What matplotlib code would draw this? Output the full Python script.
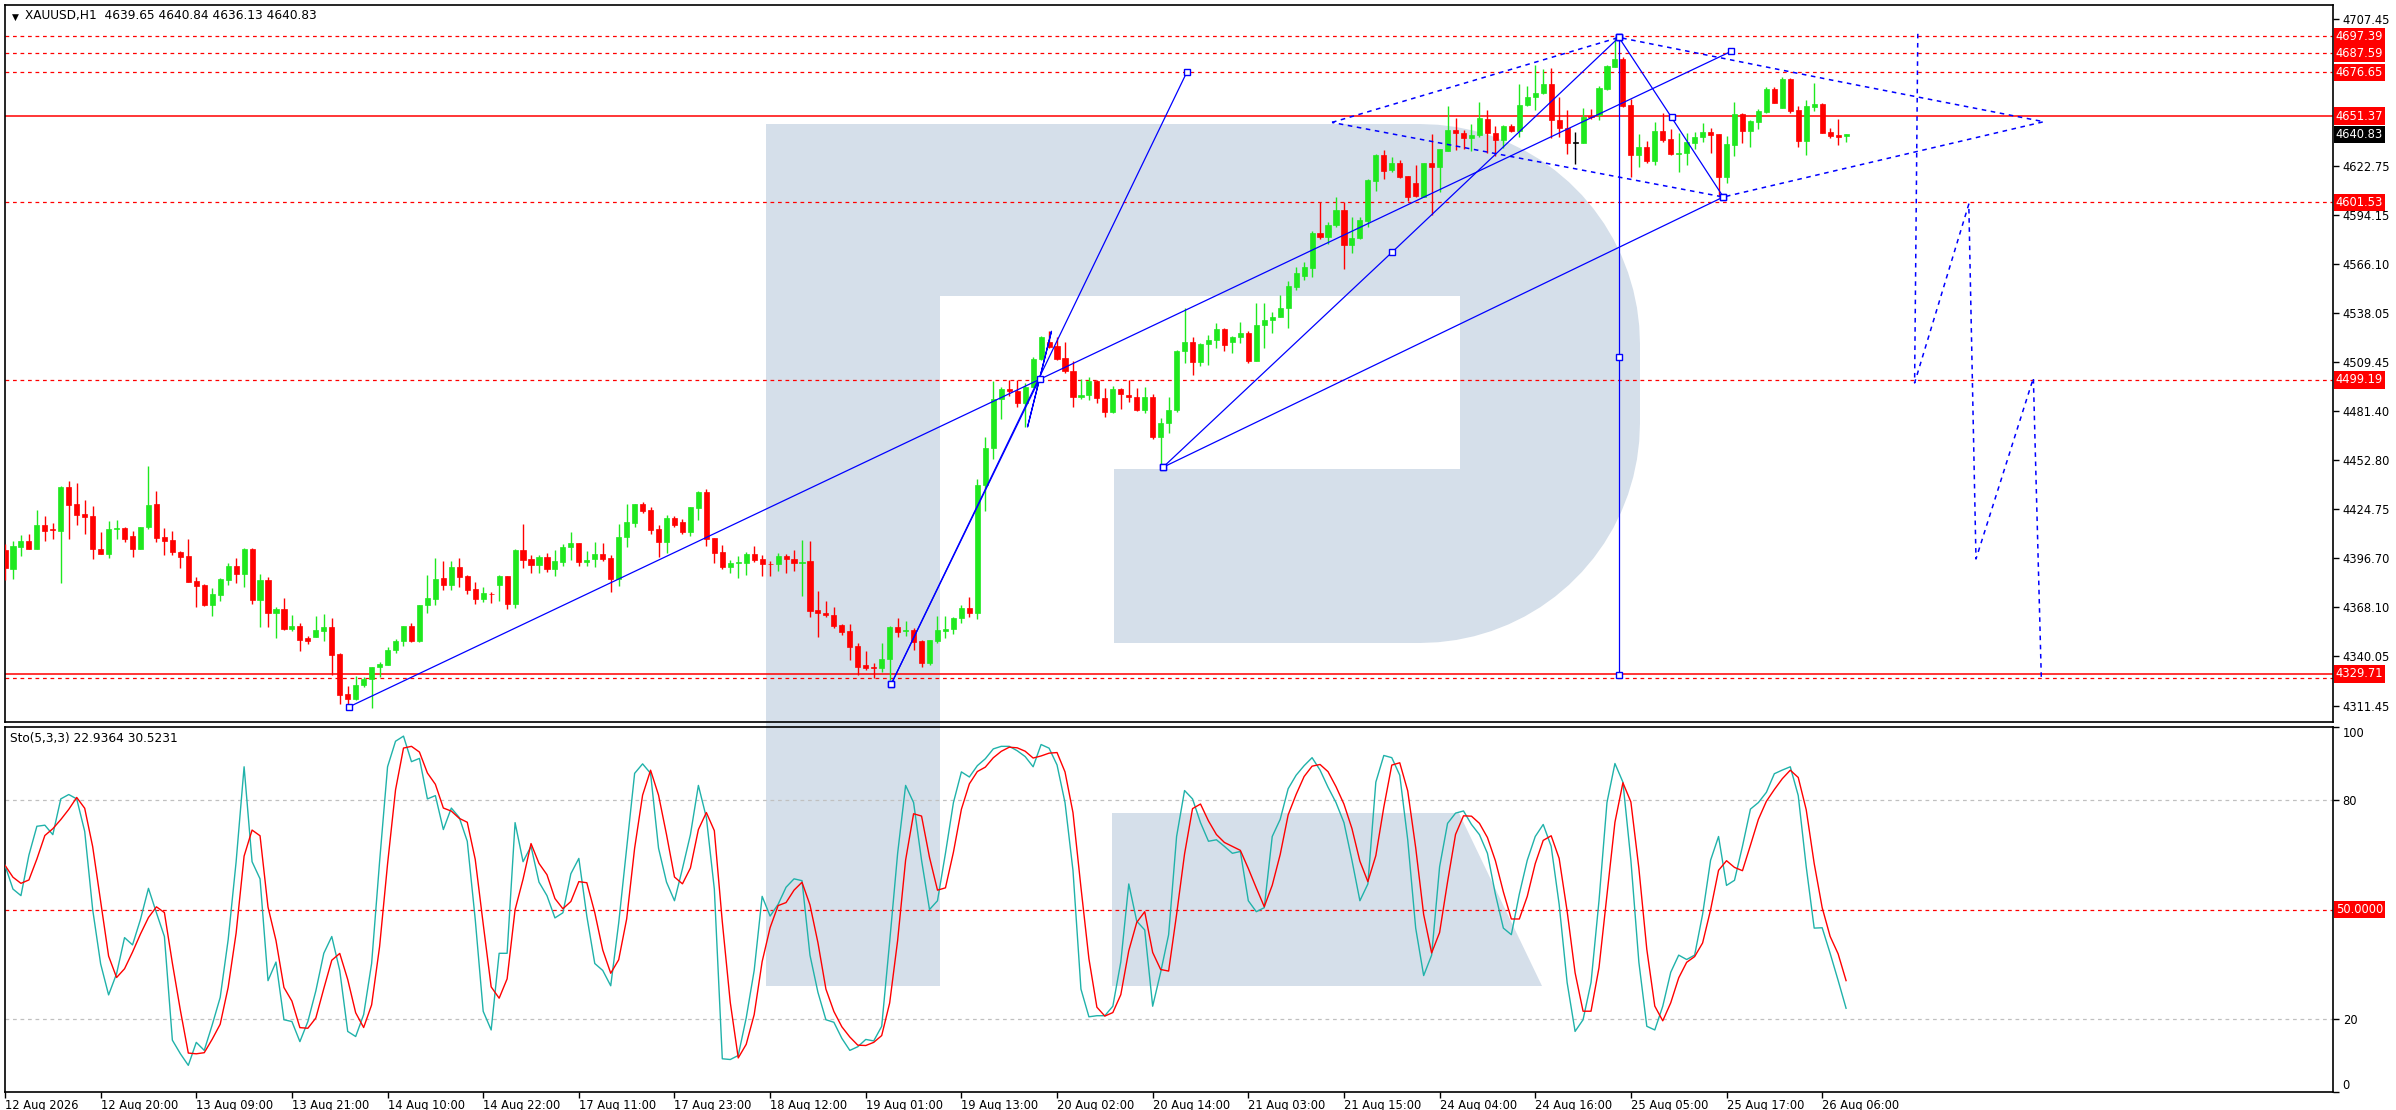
import matplotlib
matplotlib.use("Agg")
import matplotlib.pyplot as plt
import matplotlib.transforms as mtransforms
from matplotlib.patches import Polygon, Rectangle
import numpy as np
import pandas as pd

# 画面サイズ (px)
W, H = 2396, 1110

opens = [
    4401.2, 4390.4, 4403.1, 4406.4, 4401.6, 4415.4, 4412.9, 4412.3, 4437.5, 4427.7,
    4421.9, 4420.8, 4401.7, 4399.1, 4413.1, 4413.6, 4409.0, 4401.6, 4414.2, 4427.5,
    4408.5, 4406.9, 4400.0, 4397.7, 4383.3, 4381.0, 4369.5, 4375.2, 4383.9, 4391.9,
    4387.3, 4401.7, 4372.3, 4383.9, 4365.0, 4367.1, 4355.6, 4357.3, 4350.2, 4351.2,
    4354.7, 4356.6, 4341.2, 4318.2, 4315.5, 4323.3, 4326.8, 4333.5, 4335.1, 4343.5,
    4348.7, 4357.3, 4348.7, 4369.5, 4372.9, 4385.0, 4381.0, 4391.4, 4386.2, 4378.7,
    4372.9, 4375.8, 4381.0, 4386.2, 4370.0, 4401.2, 4395.8, 4392.5, 4396.9, 4390.2,
    4394.4, 4402.7, 4405.2, 4394.4, 4395.8, 4398.9, 4396.6, 4384.6, 4408.5, 4416.9,
    4427.7, 4424.2, 4413.1, 4406.0, 4419.6, 4417.3, 4411.7, 4425.6, 4434.6, 4408.1,
    4400.0, 4391.6, 4393.5, 4393.9, 4398.9, 4396.0, 4393.1, 4393.1, 4397.7, 4396.0,
    4393.9, 4394.8, 4366.6, 4365.0, 4363.7, 4357.9, 4354.5,
    4345.8, 4334.9, 4333.9, 4333.0, 4338.2, 4357.0, 4354.5, 4355.1, 4348.9, 4335.8,
    4348.9, 4354.7, 4355.4, 4361.8, 4367.5, 4364.7, 4438.7, 4459.8, 4488.2, 4494.0,
    4493.0, 4486.1, 4495.0, 4511.1, 4521.3, 4518.8, 4511.7, 4504.6, 4489.2, 4490.5,
    4498.8, 4488.6, 4480.9, 4493.8, 4490.5, 4489.2, 4481.9, 4489.6, 4466.5, 4474.6,
    4481.9, 4515.9, 4521.3, 4509.7, 4519.8, 4522.3, 4528.4, 4521.3, 4523.8, 4526.1,
    4510.1, 4530.9, 4533.8, 4535.3, 4540.5,
    4553.0, 4559.1, 4563.9, 4583.7, 4581.8, 4588.5, 4597.2, 4577.0, 4580.8, 4591.0,
    4614.1, 4628.9, 4620.2, 4624.1, 4616.8, 4612.5, 4604.9, 4624.1, 4621.8, 4631.4,
    4643.3, 4641.4, 4638.5, 4640.4, 4649.6, 4641.4, 4637.5, 4645.6, 4642.9, 4657.7,
    4662.1, 4664.4, 4669.8, 4649.1, 4644.3, 4636.0, 4636.0, 4651.4, 4651.9, 4666.9,
    4679.8, 4684.0, 4657.7, 4628.9, 4633.7, 4625.6, 4642.7, 4637.9, 4629.5, 4629.8,
    4636.0, 4639.1, 4641.9, 4641.0, 4616.0, 4634.6, 4652.5, 4642.7, 4648.1, 4653.9,
    4666.9, 4655.8, 4672.7, 4654.8, 4636.9, 4656.7, 4658.3, 4641.9, 4640.2, 4639.65,
]
closes = [
    4391.0, 4403.5, 4406.4, 4401.6, 4415.4, 4412.3, 4412.6, 4437.5, 4427.3, 4421.5,
    4420.4, 4401.6, 4399.1, 4413.1, 4413.8, 4407.3, 4401.9, 4414.2, 4426.9, 4408.3,
    4406.5, 4400.2, 4397.3, 4382.9, 4380.6, 4369.5, 4375.8, 4384.4, 4391.9, 4387.3,
    4401.7, 4372.3, 4383.9, 4365.0, 4367.1, 4355.6, 4357.3, 4349.3, 4348.7, 4355.0,
    4356.6, 4340.8, 4317.8, 4315.5, 4323.3, 4326.8, 4333.5, 4335.4, 4343.5, 4348.7,
    4357.3, 4348.7, 4369.5, 4373.3, 4384.4, 4381.0, 4391.4, 4385.8, 4378.1, 4372.9,
    4376.2, 4375.6, 4386.2, 4370.0, 4401.2, 4395.4, 4392.5, 4397.3, 4390.2, 4394.8,
    4402.7, 4405.2, 4394.4, 4395.4, 4398.9, 4396.0, 4384.6, 4408.5, 4417.5, 4427.7,
    4423.8, 4412.7, 4406.0, 4419.6, 4415.8, 4411.7, 4426.0, 4434.6, 4407.7, 4399.6,
    4391.6, 4393.9, 4394.2, 4398.9, 4395.4, 4393.1, 4392.9, 4397.7, 4395.8, 4393.9,
    4394.4, 4366.2, 4364.7, 4363.7, 4357.5, 4354.1, 4345.4,
    4333.9, 4333.0, 4333.0, 4338.2, 4357.0, 4354.1, 4355.1, 4348.3, 4335.8, 4349.3,
    4355.1, 4355.4, 4361.8, 4367.5, 4364.7, 4438.7, 4459.8, 4488.2, 4494.0, 4493.0,
    4486.1, 4495.0, 4511.1, 4523.8, 4518.4, 4511.1, 4504.6, 4489.6, 4490.5, 4498.8,
    4488.6, 4480.9, 4493.8, 4490.9, 4489.2, 4481.9, 4489.6, 4466.5, 4474.6, 4481.9,
    4515.9, 4521.3, 4509.7, 4519.8, 4522.3, 4528.4, 4519.4, 4523.8, 4526.1, 4510.1,
    4530.9, 4533.8, 4535.3, 4540.5, 4553.4,
    4560.7, 4564.5, 4584.1, 4581.4, 4588.5, 4597.2, 4577.0, 4581.0, 4591.4, 4614.5,
    4628.9, 4619.9, 4624.1, 4616.4, 4604.5, 4605.2, 4624.1, 4621.8, 4632.3, 4643.3,
    4641.4, 4638.5, 4640.4, 4650.0, 4641.4, 4637.5, 4645.6, 4642.9, 4657.7, 4662.1,
    4664.4, 4669.8, 4649.1, 4644.3, 4636.0, 4636.0, 4650.6, 4650.6, 4667.7, 4680.2,
    4684.0, 4657.1, 4628.9, 4633.7, 4625.6, 4642.7, 4637.5, 4629.5, 4629.8, 4636.6,
    4639.1, 4642.1, 4640.6, 4616.4, 4635.2, 4652.5, 4642.9, 4648.5, 4654.2, 4666.9,
    4659.0, 4672.7, 4654.2, 4636.9, 4657.1, 4658.3, 4641.7, 4639.8, 4639.4, 4640.83,
]
highs = [
    4404.6, 4406.4, 4409.8, 4410.2, 4424.2, 4420.8, 4416.5, 4438.1, 4441.0, 4439.8,
    4430.0, 4426.5, 4411.5, 4417.9, 4418.5, 4414.2, 4412.3, 4414.2, 4449.6, 4435.2,
    4413.7, 4412.1, 4400.6, 4407.5, 4385.8, 4381.4, 4379.4, 4385.2, 4393.9, 4396.7,
    4402.5, 4402.5, 4387.3, 4385.8, 4368.5, 4373.3, 4363.7, 4358.9, 4351.8, 4363.1,
    4364.3, 4361.8, 4341.6, 4322.8, 4328.5, 4327.7, 4333.9, 4336.8, 4345.4, 4349.9,
    4357.3, 4359.3, 4369.5, 4386.8, 4396.7, 4395.0, 4394.8, 4396.7, 4386.8, 4382.5,
    4380.0, 4377.1, 4386.8, 4386.2, 4401.9, 4416.1, 4398.3, 4398.3, 4399.2, 4401.2,
    4404.6, 4411.5, 4405.2, 4400.6, 4406.0, 4405.4, 4398.3, 4416.1, 4427.7, 4427.7,
    4428.8, 4426.1, 4415.6, 4421.2, 4420.8, 4418.8, 4426.0, 4435.4, 4436.1, 4408.1,
    4404.0, 4395.4, 4397.7, 4400.0, 4403.5, 4398.3, 4394.8, 4399.2, 4398.9, 4401.2,
    4406.9, 4406.3, 4377.5, 4371.8, 4368.3, 4358.5, 4358.5,
    4347.4, 4343.1, 4335.8, 4347.4, 4357.4, 4361.8, 4360.4, 4356.0, 4349.3, 4349.3,
    4363.1, 4363.1, 4362.7, 4369.5, 4374.3, 4441.9, 4466.5, 4498.8, 4494.9, 4499.2,
    4499.2, 4497.3, 4512.6, 4524.6, 4527.2, 4524.2, 4521.3, 4510.3, 4499.6, 4500.7,
    4499.2, 4494.4, 4495.7, 4494.4, 4499.2, 4494.4, 4495.0, 4490.9, 4477.1, 4489.2,
    4516.5, 4540.5, 4524.2, 4520.7, 4525.1, 4532.2, 4529.0, 4524.6, 4532.4, 4527.4,
    4543.4, 4543.4, 4538.2, 4548.2, 4556.3,
    4564.5, 4567.4, 4585.3, 4602.0, 4590.4, 4604.9, 4602.0, 4592.9, 4592.9, 4614.8,
    4629.5, 4631.8, 4627.5, 4626.0, 4616.8, 4623.1, 4624.1, 4641.0, 4632.3, 4657.1,
    4650.0, 4643.3, 4646.7, 4659.6, 4654.8, 4645.6, 4646.2, 4646.7, 4669.8, 4668.6,
    4680.8, 4678.3, 4678.8, 4662.5, 4654.8, 4641.9, 4656.2, 4655.2, 4668.6, 4680.8,
    4696.7, 4685.2, 4661.0, 4640.8, 4637.1, 4647.7, 4652.9, 4643.7, 4641.7, 4641.7,
    4642.3, 4647.1, 4644.6, 4641.0, 4639.8, 4659.6, 4653.3, 4649.1, 4655.2, 4667.9,
    4667.9, 4673.7, 4673.1, 4657.1, 4660.6, 4670.6, 4658.7, 4644.2, 4649.6, 4640.84,
]
lows = [
    4383.9, 4384.6, 4397.9, 4401.6, 4401.6, 4406.5, 4407.3, 4382.3, 4407.7, 4415.8,
    4410.6, 4396.2, 4398.7, 4396.4, 4407.7, 4406.0, 4397.3, 4401.6, 4413.1, 4406.0,
    4398.3, 4398.3, 4391.0, 4382.9, 4368.5, 4369.1, 4363.3, 4371.8, 4381.0, 4382.3,
    4380.0, 4370.0, 4357.0, 4357.0, 4350.6, 4355.0, 4354.7, 4343.1, 4346.8, 4351.2,
    4348.9, 4328.9, 4312.2, 4311.8, 4314.7, 4322.4, 4310.3, 4327.7, 4334.9, 4341.6,
    4345.8, 4348.1, 4348.3, 4365.0, 4369.5, 4378.1, 4378.1, 4380.0, 4375.8, 4370.0,
    4371.4, 4370.8, 4372.0, 4367.0, 4367.9, 4390.6, 4388.1, 4388.1, 4388.7, 4386.2,
    4391.9, 4395.4, 4391.9, 4391.9, 4391.6, 4395.0, 4377.1, 4380.6, 4403.1, 4414.6,
    4422.3, 4410.4, 4397.3, 4399.2, 4414.2, 4410.2, 4409.4, 4418.5, 4403.5, 4393.9,
    4390.2, 4388.1, 4384.8, 4386.8, 4394.4, 4386.2, 4386.2, 4389.3, 4388.1, 4389.3,
    4374.8, 4362.7, 4351.2, 4362.7, 4356.4, 4352.2, 4337.7,
    4329.1, 4332.0, 4327.2, 4331.0, 4326.2, 4351.2, 4351.6, 4343.5, 4333.9, 4334.9,
    4347.4, 4350.6, 4352.8, 4359.3, 4362.4, 4361.6, 4423.9, 4453.6, 4476.9, 4490.2,
    4483.8, 4472.1, 4495.0, 4510.7, 4517.4, 4510.7, 4503.4, 4483.8, 4488.0, 4487.7,
    4486.1, 4477.7, 4480.0, 4482.5, 4486.7, 4481.5, 4480.4, 4465.0, 4448.8, 4468.8,
    4480.5, 4508.8, 4502.1, 4507.3, 4507.8, 4517.8, 4516.1, 4514.9, 4520.7, 4509.2,
    4510.1, 4517.8, 4526.5, 4535.3, 4529.0,
    4551.1, 4556.8, 4558.7, 4580.2, 4577.4, 4587.2, 4563.0, 4572.6, 4580.2, 4587.6,
    4608.3, 4614.8, 4619.2, 4615.4, 4602.5, 4604.9, 4604.5, 4594.3, 4607.7, 4631.4,
    4631.8, 4632.1, 4631.4, 4639.1, 4629.8, 4628.3, 4632.7, 4642.3, 4639.1, 4657.1,
    4654.8, 4664.0, 4638.5, 4639.4, 4629.5, 4623.7, 4635.6, 4649.6, 4649.1, 4666.3,
    4679.8, 4656.7, 4616.4, 4621.8, 4624.1, 4623.1, 4636.6, 4628.9, 4619.3, 4623.1,
    4632.1, 4636.2, 4629.8, 4604.9, 4612.5, 4628.3, 4636.0, 4633.7, 4643.7, 4652.9,
    4658.7, 4655.8, 4652.9, 4633.7, 4628.9, 4654.4, 4641.4, 4638.5, 4634.6, 4636.13,
]

# Stochastic %K (5,3,3)
stoch_k = [
    62.1, 55.6, 53.8, 64.9, 72.8, 73.1, 70.5, 80.3, 81.5, 80.3,
    71.4, 50.0, 35.1, 26.6, 32.4, 42.3, 40.3, 47.3, 55.8, 49.1,
    42.6, 14.2, 10.5, 7.3, 13.6, 11.4, 18.4, 25.9, 41.7, 63.1,
    89.1, 63.1, 58.4, 30.5, 35.6, 19.8, 19.3, 13.8, 19.3, 27.7,
    38.0, 42.6, 33.3, 16.6, 15.2, 21.2, 35.2, 63.1, 89.1, 96.1,
    97.5, 90.5, 91.4, 80.3, 81.2, 71.9, 77.8, 75.2, 68.7, 47.3,
    22.1, 17.0, 38.0, 38.0, 73.8, 63.1, 67.3, 57.5, 53.8, 47.7,
    49.1, 59.8, 64.0, 48.2, 35.2, 33.3, 29.1, 46.3, 66.8, 87.3,
    89.9, 87.3, 66.8, 57.5, 52.4, 61.2, 70.5, 84.0, 75.2, 55.6,
    9.1, 8.9, 10.0, 20.3, 33.3, 53.6, 48.2, 51.4, 56.1, 58.4,
    57.9, 37.5, 27.3, 19.8, 19.1, 14.7, 11.4, 12.4, 14.4, 14.0,
    18.0, 41.2, 65.4, 84.0, 79.3, 63.5, 50.0, 52.4, 65.4, 79.3,
    87.7, 86.3, 89.4, 91.3, 94.0, 94.7, 94.7, 93.5, 91.9, 89.1,
    95.2, 94.2, 89.6, 79.3, 60.7, 28.2, 20.6, 20.9, 20.9, 23.5,
    35.6, 57.0, 46.8, 44.4, 23.5, 32.8, 43.1, 70.0, 82.6, 80.3,
    73.8, 68.7, 69.1, 67.3, 65.4, 65.9, 52.4, 49.4, 50.5, 70.0,
    74.7, 83.1, 86.8, 89.4, 91.6, 88.2, 83.5, 79.3, 73.8, 63.5,
    52.4, 57.0, 84.9, 92.2, 91.6, 86.8, 69.1, 44.9, 31.9, 37.5,
    61.7, 73.6, 76.4, 77.0, 73.3, 70.5, 65.4, 54.2, 44.9, 43.1,
    54.2, 63.5, 70.0, 73.3, 67.3, 51.4, 30.0, 16.6, 19.8, 30.0,
    52.4, 79.3, 90.0, 84.9, 63.5, 35.6, 18.0, 17.0, 23.5, 32.8,
    37.5, 36.3, 37.5, 48.7, 63.5, 70.0, 56.6, 58.0, 67.3, 77.5,
    79.3, 82.1, 87.2, 88.2, 89.1, 81.2, 61.7, 44.9, 45.0, 38.0,
    30.6, 22.94,
]

tick_labels = [
    "12 Aug 2026", "12 Aug 20:00", "13 Aug 09:00", "13 Aug 21:00", "14 Aug 10:00",
    "14 Aug 22:00", "17 Aug 11:00", "17 Aug 23:00", "18 Aug 12:00", "19 Aug 01:00",
    "19 Aug 13:00", "20 Aug 02:00", "20 Aug 14:00", "21 Aug 03:00", "21 Aug 15:00",
    "24 Aug 04:00", "24 Aug 16:00", "25 Aug 05:00", "25 Aug 17:00", "26 Aug 06:00",
]
# 4679.40 / 4651.35 は赤いラベルの下に隠れるので省く
price_ticks = [4707.45, 4622.75, 4594.15, 4566.10, 4538.05, 4509.45,
               4481.40, 4452.80, 4424.75, 4396.70, 4368.10, 4340.05, 4311.45]
dashed_levels = [4697.39, 4687.59, 4676.65, 4601.53, 4499.19, 4327.2]
solid_levels = [4651.37, 4329.71]
level_labels = [4697.39, 4687.59, 4676.65, 4651.37, 4601.53, 4499.19, 4329.71]
last_price = 4640.83

# 手描きオブジェクト (bar, price)
channel_line = [(43.2, 4310.8), (216.6, 4688.7)]
steep_line = [(111.2, 4323.9), (148.3, 4676.8)]
zigzag = [(111.2, 4323.9), (129.8, 4499.8), (131.3, 4527.3), (128.3, 4472.1), (129.8, 4499.8)]
fan_top = [(145.3, 4448.9), (174.0, 4572.7), (202.5, 4696.7)]
fan_low = [(145.3, 4448.9), (215.6, 4604.7)]
wave = [(202.5, 4696.7), (209.1, 4650.6), (215.6, 4604.7)]
vertical = [(202.5, 4696.7), (202.5, 4512.5), (202.5, 4329.1)]
diamond = [(166.5, 4647.7), (202.5, 4696.7), (229.2, 4672.1), (255.8, 4648.1),
           (215.6, 4604.7), (166.5, 4647.7)]
forecast = [(240.0, 4698.8), (239.6, 4497.5), (246.4, 4600.6), (247.3, 4396.0),
            (254.5, 4500.3), (255.5, 4326.8)]

BULL = "#1fe81f"
BEAR = "#ff0000"
BLUE = "#0000ff"
LOGO = "#d5dfea"
FONT = ["DejaVu Sans"]
LABEL_FS = 8.3
SMALL_FS = 8.3


def fig_px(x, y):
    return (x / W, 1 - y / H)


def draw_logo(fig):
    tr = fig.transFigure
    kw = dict(transform=tr, facecolor=LOGO, edgecolor="none", zorder=0)
    # 縦棒
    fig.patches.append(Polygon([fig_px(766, 124), fig_px(940, 124),
                                fig_px(940, 986), fig_px(766, 986)], **kw))
    # 丸い外形
    pts = [(940, 124), (1420, 124)]
    for a in np.linspace(90, 0, 20):
        pts.append((1420 + 220 * np.cos(np.radians(a)), 344 - 220 * np.sin(np.radians(a))))
    for a in np.linspace(0, -90, 20):
        pts.append((1420 + 220 * np.cos(np.radians(a)), 423 - 220 * np.sin(np.radians(a))))
    pts += [(1114, 643), (1114, 469), (1460, 469), (1460, 296), (940, 296)]
    fig.patches.append(Polygon([fig_px(*p) for p in pts], **kw))
    # 脚
    fig.patches.append(Polygon([fig_px(1112, 813), fig_px(1459, 813),
                                fig_px(1542, 986), fig_px(1112, 986)], **kw))


def draw_candles(ax):
    for i, (o, h, l, c) in enumerate(zip(opens, highs, lows, closes)):
        if c > o:
            col = BULL
        elif c < o:
            col = BEAR
        else:
            col = "black"
        ax.vlines(i, l, h, color=col, lw=1.0, zorder=3)
        bottom = min(o, c)
        height = max(abs(c - o), 0.4)
        ax.add_patch(Rectangle((i - 0.32, bottom), 0.64, height, facecolor=col,
                               edgecolor=col, lw=0.5, zorder=3))


def poly(ax, pts, ls="-", markers=True, lw=0.9):
    xs = [p[0] for p in pts]
    ys = [p[1] for p in pts]
    ax.plot(xs, ys, color=BLUE, lw=lw, ls=ls, zorder=4)
    if markers:
        ax.plot([xs[0], xs[-1]], [ys[0], ys[-1]], ls="none", marker="s", ms=4.5,
                mfc="white", mec=BLUE, mew=1.0, zorder=5)


def price_box(ax, y, text, fc):
    blend = mtransforms.blended_transform_factory(ax.transAxes, ax.transData)
    ax.text(1.0012, y, text, transform=blend, color="white", fontsize=LABEL_FS,
            family=FONT, va="center", ha="left", zorder=10, clip_on=False,
            bbox=dict(boxstyle="square,pad=0.18", fc=fc, ec="none"))


def main():
    n = len(closes)
    assert len(opens) == n and len(highs) == n and len(lows) == n and len(stoch_k) == n
    stoch_d = pd.Series(stoch_k).rolling(3, min_periods=1).mean().to_numpy()

    fig = plt.figure(figsize=(W / 100, H / 100), dpi=100)
    fig.patch.set_facecolor("white")
    draw_logo(fig)

    xmax = 2328 / 7.97
    ax = fig.add_axes([5 / W, 1 - 722 / H, 2328 / W, 717 / H])
    ax2 = fig.add_axes([5 / W, 1 - 1092 / H, 2328 / W, 365 / H])
    for a in (ax, ax2):
        a.set_zorder(2)
        a.set_facecolor("none")
        a.set_xlim(0, xmax)
        for s in a.spines.values():
            s.set_color("black")
            s.set_linewidth(1.2)

    # メインチャート
    ax.set_ylim(4302.0, 4715.4)
    ax.set_xticks([])
    ax.yaxis.tick_right()
    ax.set_yticks(price_ticks)
    ax.set_yticklabels([f"{v:.2f}" for v in price_ticks], family=FONT, fontsize=LABEL_FS)
    ax.tick_params(axis="y", length=4, width=1, pad=3)

    for lv in dashed_levels:
        ax.axhline(lv, color=BEAR, lw=0.9, ls=(0, (3, 3)), zorder=2)
    for lv in solid_levels:
        ax.axhline(lv, color=BEAR, lw=1.1, zorder=2)

    draw_candles(ax)

    poly(ax, channel_line)
    poly(ax, steep_line)
    poly(ax, zigzag)
    poly(ax, fan_top)
    poly(ax, fan_low)
    poly(ax, wave)
    poly(ax, vertical)
    mids = [fan_top[1], wave[1], vertical[1]]
    ax.plot([p[0] for p in mids], [p[1] for p in mids], ls="none", marker="s", ms=4.5,
            mfc="white", mec=BLUE, mew=1.0, zorder=5)
    poly(ax, diamond, ls=(0, (3, 3)), markers=False, lw=1.1)
    poly(ax, forecast, ls=(0, (3, 3)), markers=False, lw=1.1)

    for lv in level_labels:
        price_box(ax, lv, f"{lv:.2f}", BEAR)
    price_box(ax, last_price, f"{last_price:.2f}", "black")

    ax.text(7 / 2328, 1 - 8 / 717, "\u25bc", transform=ax.transAxes, fontsize=6.5,
            family=FONT, va="top", ha="left")
    ax.text(20 / 2328, 1 - 4 / 717, "XAUUSD,H1  4639.65 4640.84 4636.13 4640.83",
            transform=ax.transAxes, fontsize=SMALL_FS + 0.4, family=FONT, va="top",
            ha="left")

    # ストキャスティクス
    x = np.arange(n)
    ax2.set_ylim(0, 100)
    ax2.axhline(80, color="#c0c0c0", lw=0.9, ls=(0, (3, 3)))
    ax2.axhline(20, color="#c0c0c0", lw=0.9, ls=(0, (3, 3)))
    ax2.axhline(50, color=BEAR, lw=0.9, ls=(0, (3, 3)))
    ax2.plot(x, stoch_k, color="#20b2aa", lw=1.0, zorder=3)
    ax2.plot(x, stoch_d, color=BEAR, lw=1.0, zorder=4)

    ax2.yaxis.tick_right()
    ax2.set_yticks([100, 80, 20, 0])
    ax2.set_yticklabels(["100", "80", "20", "0"], family=FONT, fontsize=LABEL_FS)
    labels = ax2.get_yticklabels()
    labels[0].set_va("top")
    labels[3].set_va("bottom")
    ax2.tick_params(axis="y", length=4, width=1, pad=3)
    price_box(ax2, 50, "50.0000", BEAR)
    ax2.text(5 / 2328, 1 - 5 / 365, "Sto(5,3,3) 22.9364 30.5231", transform=ax2.transAxes,
             fontsize=SMALL_FS + 0.4, family=FONT, va="top", ha="left")

    ax2.set_xticks([12 * k for k in range(len(tick_labels))])
    ax2.set_xticklabels(tick_labels, family=FONT, fontsize=SMALL_FS, ha="left")
    ax2.tick_params(axis="x", length=4, width=1, pad=1)

    fig.savefig("out.png", dpi=100, facecolor="white")
    plt.close(fig)


if __name__ == "__main__":
    main()
